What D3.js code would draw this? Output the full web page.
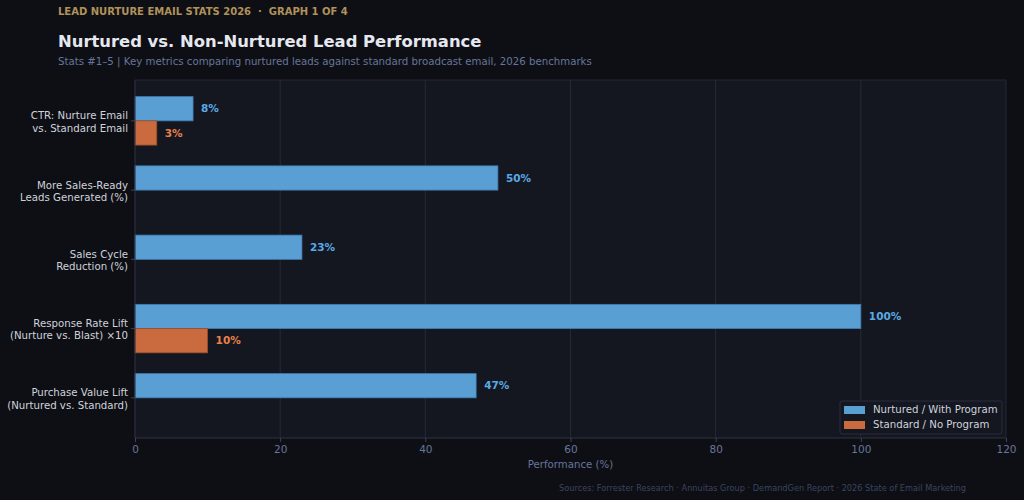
<!DOCTYPE html>
<html>
<head>
<meta charset="utf-8">
<script src="https://cdn.jsdelivr.net/npm/d3@7"></script>
<style>
  body { margin: 0; background: #0e0f14; }
  svg { display: block; font-family: "DejaVu Sans", sans-serif; }
</style>
</head>
<body>
<svg width="1024" height="500"></svg>
<script>
// chart data
var categories = [
  ["CTR: Nurture Email", "vs. Standard Email"],
  ["More Sales-Ready", "Leads Generated (%)"],
  ["Sales Cycle", "Reduction (%)"],
  ["Response Rate Lift", "(Nurture vs. Blast) \u00d710"],
  ["Purchase Value Lift", "(Nurtured vs. Standard)"]
];
var nurtured = [8, 50, 23, 100, 47];
var standard = [3, null, null, 10, null];
var seriesNames = ["Nurtured / With Program", "Standard / No Program"];
var xTicks = [0, 20, 40, 60, 80, 100, 120];

var svg = d3.select("svg"),
    margin = {top: 80, right: 18, bottom: 62, left: 135},
    width = 1024 - margin.left - margin.right,
    height = 500 - margin.top - margin.bottom;

var blue = "#5a9fd4", orange = "#c96a3f";

svg.append("rect").attr("width", 1024).attr("height", 500).attr("fill", "#0e0f14");

// header
svg.append("text").attr("x", 58).attr("y", 15).attr("xml:space", "preserve")
    .attr("fill", "#b0925a").style("font-size", "10px").style("font-weight", "bold")
    .style("white-space", "pre")
    .text("LEAD NURTURE EMAIL STATS 2026  \u00b7  GRAPH 1 OF 4");
svg.append("text").attr("x", 58).attr("y", 47)
    .attr("fill", "#e6e8f0").style("font-size", "16.4px").style("font-weight", "bold")
    .text("Nurtured vs. Non-Nurtured Lead Performance");
svg.append("text").attr("x", 58).attr("y", 65)
    .attr("fill", "#66769c").style("font-size", "10.2px")
    .text("Stats #1\u20135 | Key metrics comparing nurtured leads against standard broadcast email, 2026 benchmarks");

var x = d3.scaleLinear().domain([0, 120]).range([0, width]);
var y = d3.scaleLinear().domain([-0.59, 4.58]).range([0, height]);
var barH = 0.35;

var g = svg.append("g")
    .attr("transform", "translate(" + margin.left + "," + margin.top + ")");

g.append("rect").attr("width", width).attr("height", height).attr("fill", "#141720");

// grid
g.selectAll(".grid").data(xTicks.slice(1, -1)).enter().append("line")
    .attr("x1", function(d) { return x(d); }).attr("x2", function(d) { return x(d); })
    .attr("y1", 0).attr("y2", height)
    .attr("stroke", "#262a37").attr("stroke-width", 1);

// bars
g.selectAll(".nbar").data(nurtured).enter().append("rect")
    .attr("x", x(0))
    .attr("y", function(d, i) { return y(i - barH); })
    .attr("width", function(d) { return x(d) - x(0); })
    .attr("height", y(barH) - y(0))
    .attr("fill", blue).attr("stroke", "#3f7bb0").attr("stroke-width", 0.8);

var stdData = standard.map(function(v, i) { return {v: v, i: i}; })
    .filter(function(d) { return d.v != null; });

g.selectAll(".sbar").data(stdData).enter().append("rect")
    .attr("x", x(0))
    .attr("y", function(d) { return y(d.i); })
    .attr("width", function(d) { return x(d.v) - x(0); })
    .attr("height", y(barH) - y(0))
    .attr("fill", orange).attr("stroke", "#9c4d2a").attr("stroke-width", 0.8);

// value labels
g.selectAll(".nlab").data(nurtured).enter().append("text")
    .attr("x", function(d) { return x(d) + 8; })
    .attr("y", function(d, i) { return y(i - barH / 2); })
    .attr("dy", "0.35em")
    .attr("fill", "#5aa9e6").style("font-size", "10.5px").style("font-weight", "bold")
    .text(function(d) { return d + "%"; });

g.selectAll(".slab").data(stdData).enter().append("text")
    .attr("x", function(d) { return x(d.v) + 8; })
    .attr("y", function(d) { return y(d.i + barH / 2); })
    .attr("dy", "0.35em")
    .attr("fill", "#e8804a").style("font-size", "10.5px").style("font-weight", "bold")
    .text(function(d) { return d.v + "%"; });

// spines
g.append("line").attr("x1", 0).attr("x2", 0).attr("y1", 0).attr("y2", height)
    .attr("stroke", "#2e3344");
g.append("line").attr("x1", 0).attr("x2", width).attr("y1", height).attr("y2", height)
    .attr("stroke", "#2e3344");
g.append("line").attr("x1", 0).attr("x2", width).attr("y1", 0).attr("y2", 0)
    .attr("stroke", "#22263a");
g.append("line").attr("x1", width).attr("x2", width).attr("y1", 0).attr("y2", height)
    .attr("stroke", "#22263a");

// x axis
var xAxis = g.append("g")
    .attr("transform", "translate(0," + height + ")")
    .call(d3.axisBottom(x).tickValues(xTicks).tickSize(4).tickPadding(4));
xAxis.select(".domain").remove();
xAxis.selectAll("line").attr("stroke", "#3a4258");
xAxis.selectAll("text").attr("fill", "#66769c").style("font-size", "10.5px")
    .style("font-family", "DejaVu Sans, sans-serif");

g.append("text").attr("x", width / 2).attr("y", height + 30)
    .attr("text-anchor", "middle").attr("fill", "#66769c").style("font-size", "10.2px")
    .text("Performance (%)");

// y axis labels
var yAxis = g.append("g");
categories.forEach(function(lines, i) {
  yAxis.append("line").attr("x1", -4).attr("x2", 0)
      .attr("y1", y(i)).attr("y2", y(i)).attr("stroke", "#3a4258");
  var t = yAxis.append("text").attr("text-anchor", "end")
      .attr("fill", "#cfd3dc").style("font-size", "10.2px");
  lines.forEach(function(l, j) {
    t.append("tspan").attr("x", -7).attr("y", y(i) + (j === 0 ? -1.5 : 10.8)).text(l);
  });
});

// legend
var lg = g.append("g").attr("transform", "translate(" + (840 - margin.left) + "," + (401 - margin.top) + ")");
lg.append("rect").attr("width", 162).attr("height", 33).attr("rx", 2)
    .attr("fill", "#141720").attr("stroke", "#2a2e3c");
seriesNames.forEach(function(name, i) {
  lg.append("rect").attr("x", 4).attr("y", 5 + i * 15).attr("width", 21).attr("height", 8)
      .attr("fill", i === 0 ? blue : orange);
  lg.append("text").attr("x", 33).attr("y", 8.5 + i * 15).attr("dy", "0.35em")
      .attr("fill", "#cfd3dc").style("font-size", "10.2px").text(name);
});

// footer
svg.append("text").attr("x", 966).attr("y", 491).attr("text-anchor", "end")
    .attr("fill", "#3a4460").style("font-size", "8.2px")
    .text("Sources: Forrester Research \u00b7 Annuitas Group \u00b7 DemandGen Report \u00b7 2026 State of Email Marketing");
</script>
</body>
</html>
